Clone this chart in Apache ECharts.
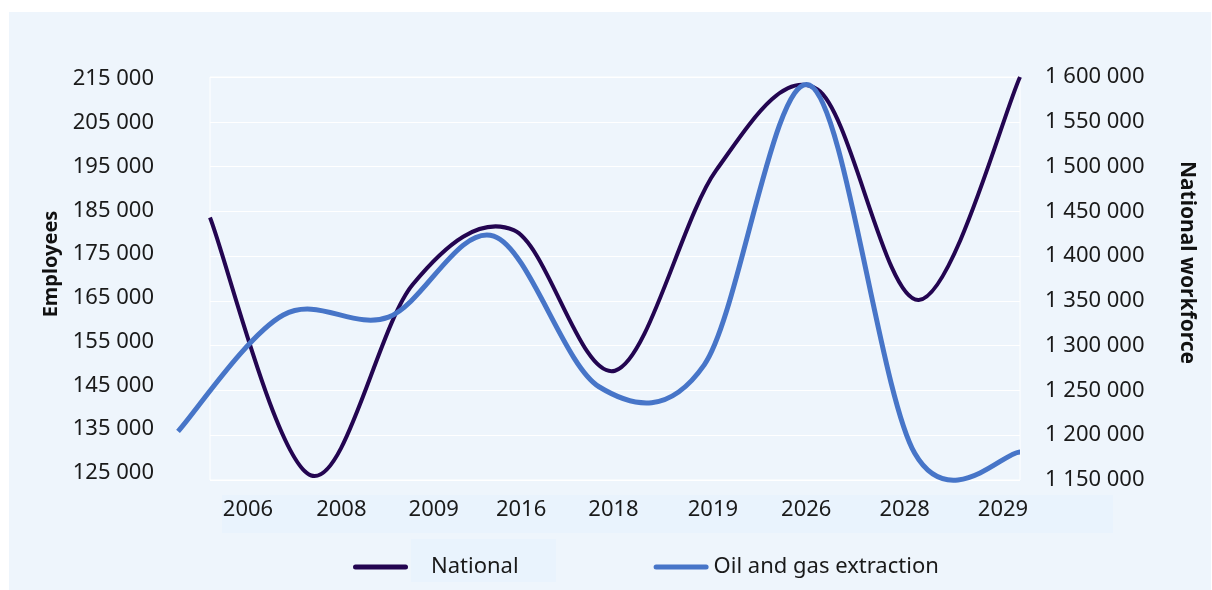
<!DOCTYPE html>
<html>
<head>
<meta charset="utf-8">
<script src="https://cdn.jsdelivr.net/npm/echarts@6/dist/echarts.min.js"></script>
<style>
  html, body { margin: 0; padding: 0; background: #ffffff; }
  #chart { width: 1212px; height: 590px; }
</style>
</head>
<body>
<div id="chart"></div>
<script>
// ---- data ----
var categories = ['2006', '2008', '2009', '2016', '2018', '2019', '2026', '2028', '2029'];
var national = [1443000, 1155000, 1368000, 1429000, 1272000, 1496000, 1586000, 1351000, 1600000];
var oilGas = [134500, 161100, 160600, 179100, 144700, 149700, 213600, 129500, 129800];
var leftTicks = [125000, 135000, 145000, 155000, 165000, 175000, 185000, 195000, 205000, 215000];
var rightTicks = [1150000, 1200000, 1250000, 1300000, 1350000, 1400000, 1450000, 1500000, 1550000, 1600000];
var seriesNames = ['National', 'Oil and gas extraction'];

// ---- styling ----
var FONT = '"Noto Sans", "Open Sans", sans-serif';
var TEXT = '#1a1a1a';
var labelNudge = [0, -1, -3, -10, -12, -7, -8, -4, 0];

function fmt(v) {
  return String(v).replace(/\B(?=(\d{3})+(?!\d))/g, ' ');
}

var catRich = {};
labelNudge.forEach(function (n, i) {
  catRich['l' + i] = {
    fontSize: 22, fontFamily: FONT, color: TEXT,
    padding: [0, n < 0 ? -2 * n : 0, 0, n > 0 ? 2 * n : 0]
  };
});

// Smooth (Catmull-Rom style) line drawn through the data points via the axes' scales
function smoothLine(name, values, xi, yi, color, width, z) {
  return {
    name: name, type: 'custom', xAxisIndex: xi, yAxisIndex: yi, z: z,
    itemStyle: { color: color },
    data: values.map(function (v, i) { return [i, v]; }),
    renderItem: function (params, api) {
      if (params.dataIndex !== 0) return null;
      var pts = values.map(function (v, i) { return api.coord([i, v]); });
      var n = pts.length;
      var d = 'M' + pts[0][0] + ' ' + pts[0][1];
      for (var i = 0; i < n - 1; i++) {
        var p0 = pts[Math.max(i - 1, 0)], p1 = pts[i], p2 = pts[i + 1], p3 = pts[Math.min(i + 2, n - 1)];
        var c1x = p1[0] + (p2[0] - p0[0]) / 6, c1y = p1[1] + (p2[1] - p0[1]) / 6;
        var c2x = p2[0] - (p3[0] - p1[0]) / 6, c2y = p2[1] - (p3[1] - p1[1]) / 6;
        d += ' C' + c1x + ' ' + c1y + ' ' + c2x + ' ' + c2y + ' ' + p2[0] + ' ' + p2[1];
      }
      return {
        type: 'path', silent: true,
        shape: { pathData: d },
        style: { fill: 'none', stroke: color, lineWidth: width, lineJoin: 'round' }
      };
    }
  };
}

var chart = echarts.init(document.getElementById('chart'), null, { renderer: 'canvas' });

var option = {
  backgroundColor: '#ffffff',
  animation: false,
  textStyle: { fontFamily: FONT },
  graphic: [
    { type: 'rect', z: -100, silent: true, shape: { x: 9, y: 12, width: 1202, height: 578 }, style: { fill: '#EEF5FC' } },
    { type: 'rect', z: -90, silent: true, shape: { x: 222, y: 495, width: 891, height: 38 }, style: { fill: '#E9F3FD' } },
    { type: 'rect', z: -90, silent: true, shape: { x: 411, y: 539, width: 145, height: 43 }, style: { fill: '#E9F3FD' } }
  ],
  grid: [
    { left: 210, right: 192, top: 77, height: 403, show: true, borderColor: '#ffffff', borderWidth: 1, backgroundColor: 'transparent' },
    { left: 178, right: 192, top: 79, height: 394 },
    { left: 200.8, right: 161.8, top: 77, height: 403 }
  ],
  xAxis: [
    { type: 'category', gridIndex: 0, data: categories, boundaryGap: false, show: false },
    { type: 'category', gridIndex: 1, data: categories, boundaryGap: false, show: false },
    {
      type: 'category', gridIndex: 2, data: categories, boundaryGap: true,
      axisLine: { show: false }, axisTick: { show: false }, splitLine: { show: false },
      axisLabel: {
        interval: 0, margin: 19, fontSize: 22, fontFamily: FONT, color: TEXT,
        formatter: function (v, i) { return '{l' + i + '|' + v + '}'; },
        rich: catRich
      }
    }
  ],
  yAxis: [
    {
      type: 'value', gridIndex: 0, position: 'right',
      min: rightTicks[0], max: rightTicks[rightTicks.length - 1], interval: 50000,
      name: 'National workforce', nameLocation: 'middle', nameRotate: -90, nameGap: 156,
      nameTextStyle: { fontSize: 21, fontWeight: 'bold', color: '#111', fontFamily: FONT, padding: [0, 32, 0, 0] },
      axisLine: { show: false }, axisTick: { show: false },
      splitLine: { show: true, lineStyle: { color: '#ffffff', width: 1 } },
      axisLabel: { margin: 25, fontSize: 22, fontFamily: FONT, color: TEXT, formatter: fmt }
    },
    {
      type: 'value', gridIndex: 1, position: 'left',
      min: leftTicks[0], max: leftTicks[leftTicks.length - 1],
      name: 'Employees', nameLocation: 'middle', nameGap: 117,
      nameTextStyle: { fontSize: 20, fontWeight: 'bold', color: '#111', fontFamily: FONT, padding: [0, 0, 0, 24] },
      axisLine: { show: false }, axisTick: { show: false }, splitLine: { show: false },
      axisLabel: { margin: 24, fontSize: 22, fontFamily: FONT, color: TEXT, formatter: fmt, customValues: leftTicks }
    },
    { type: 'value', gridIndex: 2, show: false, min: 0, max: 1 }
  ],
  legend: {
    left: 353, top: 556, padding: 0, itemGap: 135, itemWidth: 55, itemHeight: 5,
    icon: 'path://M2.5,0 L52.5,0 A2.5,2.5 0 0 1 52.5,5 L2.5,5 A2.5,2.5 0 0 1 2.5,0 Z',
    data: seriesNames,
    formatter: function (name) {
      return name === seriesNames[0] ? '{box|' + name + '}' : '{plain|' + name + '}';
    },
    textStyle: {
      fontSize: 22, fontFamily: FONT, color: TEXT,
      rich: {
        box: { fontSize: 22, fontFamily: FONT, color: TEXT, padding: [0, 36, 0, 18] },
        plain: { fontSize: 22, fontFamily: FONT, color: TEXT }
      }
    }
  },
  series: [
    smoothLine(seriesNames[0], national, 0, 0, '#230551', 4, 3),
    smoothLine(seriesNames[1], oilGas, 1, 1, '#4775C8', 5, 4)
  ]
};

chart.setOption(option);
</script>
</body>
</html>
